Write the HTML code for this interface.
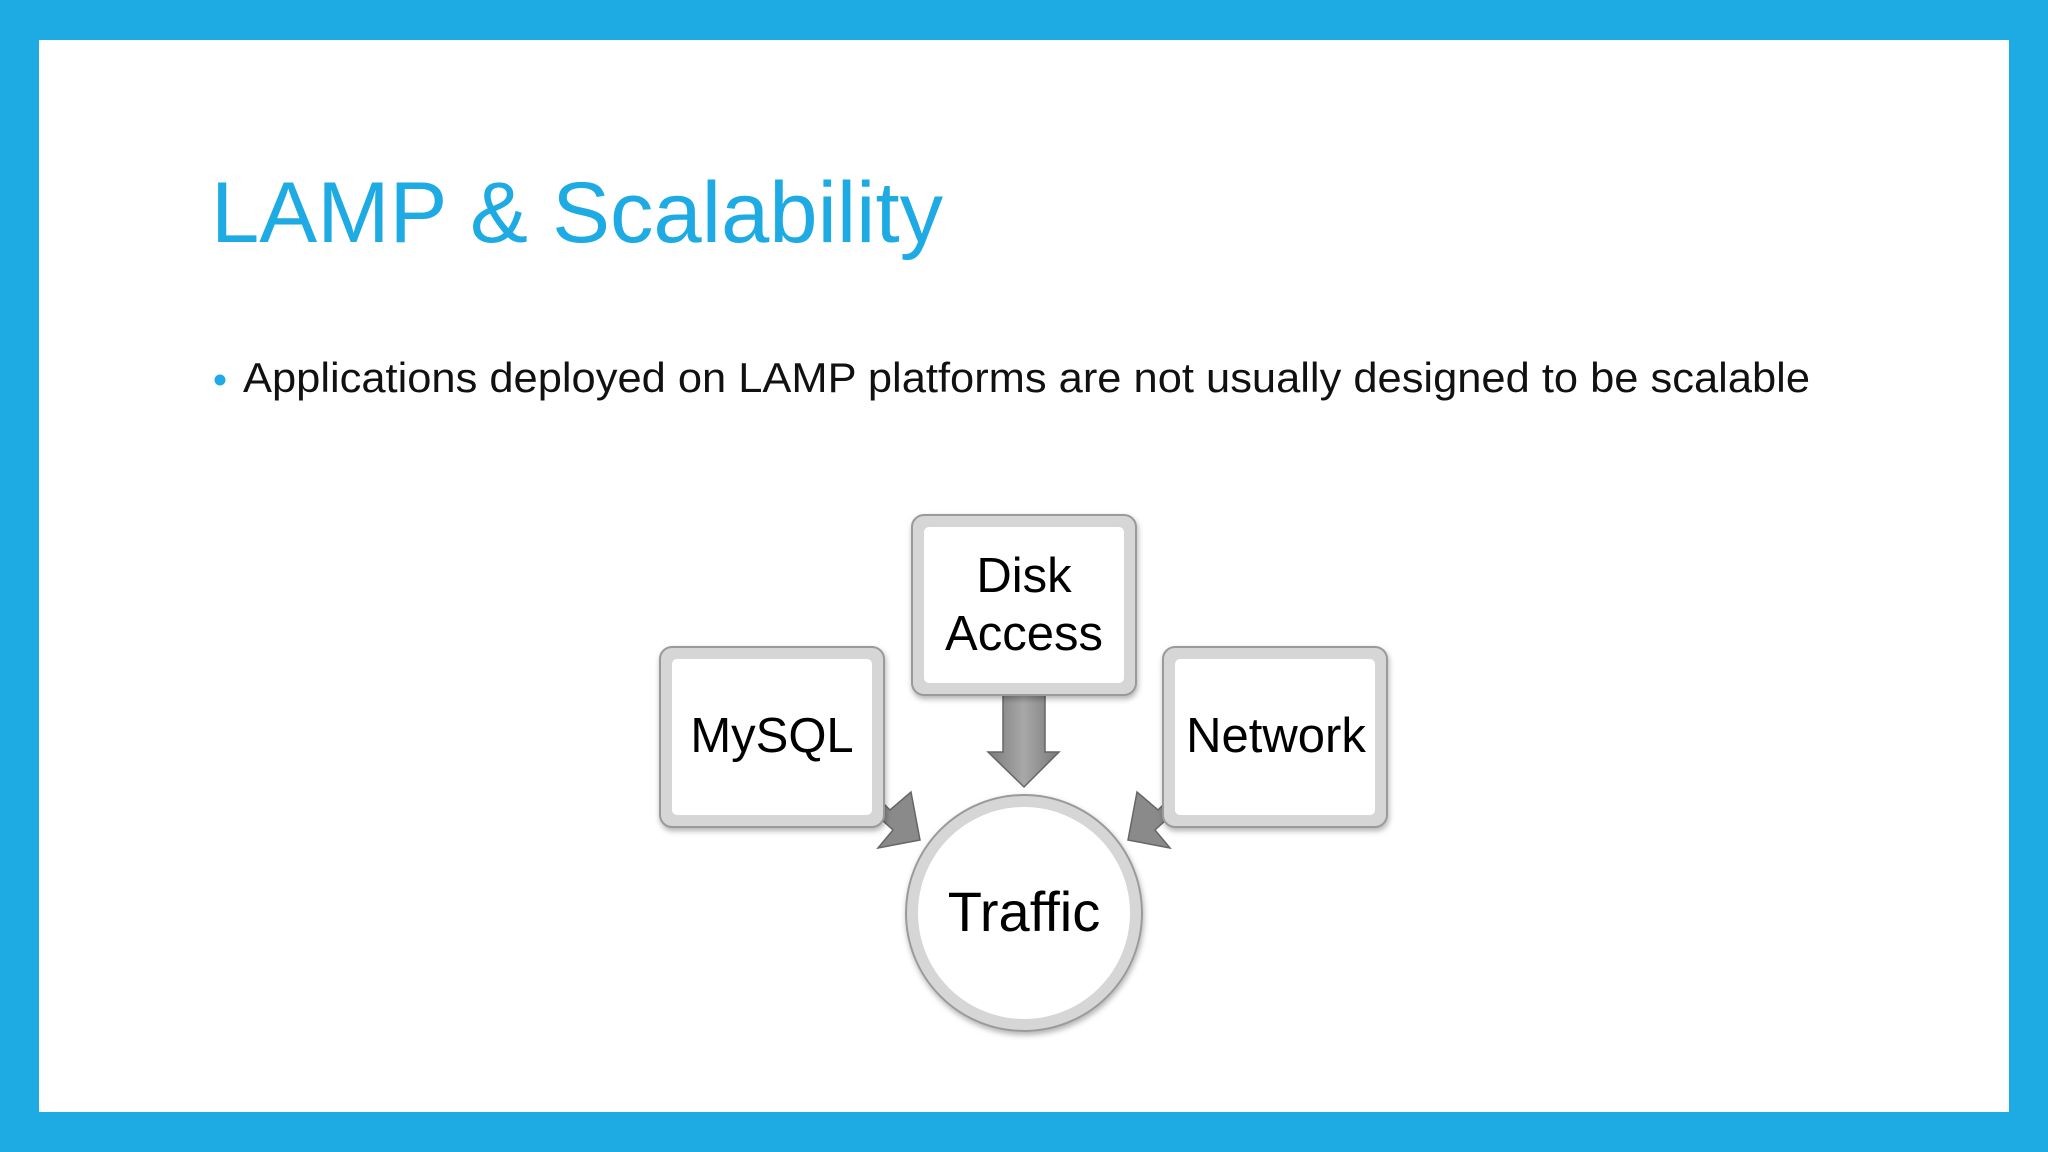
<!DOCTYPE html>
<html><head><meta charset="utf-8"><style>html,body{margin:0;padding:0;background:#1eaae3}svg{display:block}</style></head>
<body>
<svg width="2048" height="1152" viewBox="0 0 2048 1152" xmlns="http://www.w3.org/2000/svg" font-family="'Liberation Sans', sans-serif">
<defs>
<filter id="sh" x="-20%" y="-20%" width="140%" height="140%"><feDropShadow dx="1" dy="3" stdDeviation="3" flood-color="#000" flood-opacity="0.3"/></filter>
<linearGradient id="ar" x1="0" y1="0" x2="1" y2="0"><stop offset="0" stop-color="#7a7a7a"/><stop offset="0.5" stop-color="#a8a8a8"/><stop offset="1" stop-color="#7a7a7a"/></linearGradient>
</defs>
<rect x="0" y="0" width="2048" height="1152" fill="#1eaae3"/>
<rect x="39" y="40" width="1970" height="1072" fill="#fff"/>
<text x="211" y="242" font-size="86" fill="#1eaae3" textLength="732" lengthAdjust="spacingAndGlyphs">LAMP &amp; Scalability</text>
<circle cx="220" cy="380" r="5.5" fill="#1eaae3"/>
<text x="243" y="392" font-size="42" fill="#111" textLength="1567" lengthAdjust="spacingAndGlyphs">Applications deployed on LAMP platforms are not usually designed to be scalable</text>
<!-- arrows -->
<polygon points="1003,690 1045,690 1045,752 1059,752 1024,787 988,752 1003,752" fill="url(#ar)" stroke="#666" stroke-width="1.5"/>
<polygon points="860,780 890,810 911,792 920,840 878,848 893,830 860,800" fill="#8a8a8a" stroke="#666" stroke-width="1.5"/>
<polygon points="1188,780 1158,810 1137,792 1128,840 1170,848 1155,830 1188,800" fill="#8a8a8a" stroke="#666" stroke-width="1.5"/>
<!-- boxes -->
<g filter="url(#sh)">
<rect x="912" y="515" width="224" height="180" rx="12" fill="#d6d6d6" stroke="#9a9a9a" stroke-width="2"/>
<rect x="924" y="527" width="200" height="156" rx="5" fill="#fff"/>
<rect x="660" y="647" width="224" height="180" rx="12" fill="#d6d6d6" stroke="#9a9a9a" stroke-width="2"/>
<rect x="672" y="659" width="200" height="156" rx="5" fill="#fff"/>
<rect x="1163" y="647" width="224" height="180" rx="12" fill="#d6d6d6" stroke="#9a9a9a" stroke-width="2"/>
<rect x="1175" y="659" width="200" height="156" rx="5" fill="#fff"/>
<circle cx="1024" cy="913" r="118" fill="#d6d6d6" stroke="#9a9a9a" stroke-width="2"/>
<circle cx="1024" cy="913" r="106" fill="#fff"/>
</g>
<g font-size="49" fill="#000" text-anchor="middle">
<text x="1024" y="592">Disk</text>
<text x="1024" y="650">Access</text>
<text x="772" y="752">MySQL</text>
<text x="1276" y="752">Network</text>
<text x="1024" y="931" font-size="56">Traffic</text>
</g>
</svg>
</body></html>
